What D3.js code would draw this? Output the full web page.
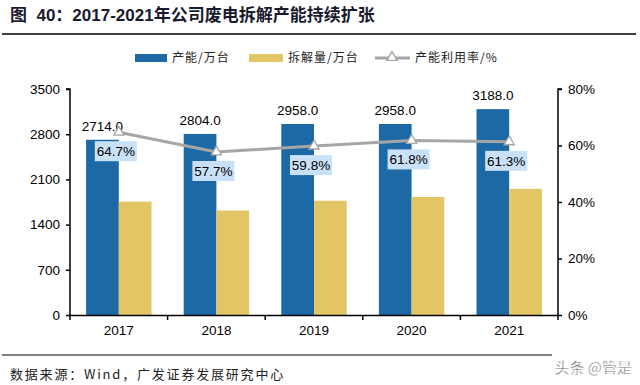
<!DOCTYPE html>
<html>
<head>
<meta charset="utf-8">
<script src="https://cdn.jsdelivr.net/npm/d3@7/dist/d3.min.js"></script>
<style>
  body { margin: 0; background: #fff; }
  svg { display: block; font-family: "Liberation Sans", Arial, "Noto Sans CJK SC", sans-serif; }
</style>
</head>
<body>
<div id="chart"></div>
<script>
const years = ['2017', '2018', '2019', '2020', '2021'];
const capacity = [2714.0, 2804.0, 2958.0, 2958.0, 3188.0];
const dismantled = [1756, 1618, 1769, 1828, 1954];
const utilization = [64.7, 57.7, 59.8, 61.8, 61.3];
const leftTicks = [0, 700, 1400, 2100, 2800, 3500];
const rightTicks = [0, 20, 40, 60, 80];

const width = 640, height = 385;
const margin = { top: 89, right: 82, bottom: 70, left: 70 };
const innerW = width - margin.left - margin.right;
const innerH = height - margin.top - margin.bottom;

const svg = d3.select('#chart')
  .append('svg')
  .attr('width', width)
  .attr('height', height);

// title
svg.append('text')
  .attr('x', 10)
  .attr('y', 21)
  .attr('font-size', 17)
  .attr('font-weight', 'bold')
  .attr('fill', '#1a1a2e')
  .attr('font-family', '"Liberation Sans", "Noto Sans CJK SC", sans-serif')
  .attr('xml:space', 'preserve')
  .text('图  40：2017-2021年公司废电拆解产能持续扩张');
svg.append('line')
  .attr('x1', 2).attr('x2', 636)
  .attr('y1', 34).attr('y2', 34)
  .attr('stroke', '#000').attr('stroke-width', 1.5);

const g = svg.append('g')
  .attr('transform', `translate(${margin.left},${margin.top})`);

const x0 = d3.scaleBand().domain(years).range([0, innerW]).paddingInner(0.33).paddingOuter(0.165);
const x1 = d3.scaleBand().domain(['cap', 'dis']).range([0, x0.bandwidth()]);
const xc = d => x0(d) + x0.bandwidth() / 2;
const yL = d3.scaleLinear().domain([0, 3500]).range([innerH, 0]);
const yR = d3.scaleLinear().domain([0, 80]).range([innerH, 0]);

const blue = '#1c69a6', yellow = '#e2c665', grey = '#a6a6a6';

// bars
g.selectAll('.cap').data(years).join('rect')
  .attr('class', 'cap')
  .attr('x', d => x0(d) + x1('cap'))
  .attr('width', x1.bandwidth())
  .attr('y', (d, i) => yL(capacity[i]))
  .attr('height', (d, i) => innerH - yL(capacity[i]))
  .attr('fill', blue);
g.selectAll('.dis').data(years).join('rect')
  .attr('class', 'dis')
  .attr('x', d => x0(d) + x1('dis'))
  .attr('width', x1.bandwidth())
  .attr('y', (d, i) => yL(dismantled[i]))
  .attr('height', (d, i) => innerH - yL(dismantled[i]))
  .attr('fill', yellow);

// capacity labels
g.selectAll('.capLbl').data(years).join('text')
  .attr('x', d => x0(d) + x1('cap') + x1.bandwidth() / 2)
  .attr('y', (d, i) => yL(capacity[i]) - 9)
  .attr('text-anchor', 'middle')
  .attr('font-size', 13.5)
  .attr('fill', '#000')
  .text((d, i) => capacity[i].toFixed(1));

// axes
const axL = g.append('g')
  .call(d3.axisLeft(yL).tickValues(leftTicks).tickSize(4).tickPadding(6).tickFormat(d3.format('d')));
const axR = g.append('g')
  .attr('transform', `translate(${innerW},0)`)
  .call(d3.axisRight(yR).tickValues(rightTicks).tickSize(4).tickPadding(6).tickFormat(d => d + '%'));
const axB = g.append('g')
  .attr('transform', `translate(0,${innerH})`)
  .call(d3.axisBottom(x0).tickSize(0).tickPadding(10));
// year boundary ticks on x axis
const bounds = d3.range(years.length + 1).map(i => i * innerW / years.length);
g.append('g').selectAll('line').data(bounds).join('line')
  .attr('x1', d => d).attr('x2', d => d)
  .attr('y1', innerH).attr('y2', innerH + 5)
  .attr('stroke', '#000').attr('stroke-width', 1.5);

[axL, axR, axB].forEach(a => {
  a.select('.domain').attr('stroke', '#000').attr('stroke-width', 1.5);
  a.selectAll('.tick line').attr('stroke', '#000').attr('stroke-width', 1.5);
  a.selectAll('.tick text').attr('font-size', 13.5).attr('fill', '#000')
    .attr('font-family', '"Liberation Sans", Arial, sans-serif');
});
axL.select('.domain').attr('d', `M-4,0H0V${innerH}`);
axR.select('.domain').attr('d', `M4,0H0V${innerH}`);

// utilisation line
const line = d3.line()
  .x((d, i) => xc(years[i]))
  .y(d => yR(d));
g.append('path')
  .datum(utilization)
  .attr('fill', 'none')
  .attr('stroke', grey)
  .attr('stroke-width', 3)
  .attr('d', line);
const tri = d3.symbol().type(d3.symbolTriangle).size(45);
g.selectAll('.mk').data(utilization).join('path')
  .attr('transform', (d, i) => `translate(${xc(years[i])},${yR(d)})`)
  .attr('d', tri)
  .attr('fill', '#fff')
  .attr('stroke', grey)
  .attr('stroke-width', 1.3);

// utilisation labels
const lbl = g.selectAll('.uLbl').data(utilization).join('g')
  .attr('transform', (d, i) => `translate(${xc(years[i]) - 3},${yR(d) + 19})`);
lbl.append('rect')
  .attr('x', -21).attr('y', -10)
  .attr('width', 42).attr('height', 20)
  .attr('fill', '#c9e1f6');
lbl.append('text')
  .attr('text-anchor', 'middle')
  .attr('dy', '0.36em')
  .attr('font-size', 13.5)
  .attr('fill', '#000')
  .text(d => d.toFixed(1) + '%');

// legend
const leg = svg.append('g').attr('font-size', 12).attr('fill', '#222')
  .attr('letter-spacing', 1)
  .attr('font-family', '"Noto Sans CJK SC", sans-serif');
leg.append('rect').attr('x', 135).attr('y', 54).attr('width', 32).attr('height', 8).attr('fill', blue);
leg.append('text').attr('x', 172).attr('y', 62).text('产能/万台');
leg.append('rect').attr('x', 249).attr('y', 54).attr('width', 34).attr('height', 8).attr('fill', yellow);
leg.append('text').attr('x', 288).attr('y', 62).text('拆解量/万台');
leg.append('line').attr('x1', 375).attr('x2', 410).attr('y1', 58).attr('y2', 58)
  .attr('stroke', grey).attr('stroke-width', 3);
leg.append('path').attr('transform', 'translate(392,57.5)').attr('d', tri)
  .attr('fill', '#fff').attr('stroke', grey).attr('stroke-width', 1.3);
leg.append('text').attr('x', 415).attr('y', 62).text('产能利用率/%');

// footer
svg.append('line')
  .attr('x1', 2).attr('x2', 552)
  .attr('y1', 355).attr('y2', 355)
  .attr('stroke', '#000').attr('stroke-width', 1);
svg.append('text')
  .attr('x', 10).attr('y', 379)
  .attr('font-size', 13)
  .attr('letter-spacing', 1.8)
  .attr('fill', '#222')
  .attr('font-family', '"Noto Sans CJK SC", sans-serif')
  .text('数据来源：Wind，广发证券发展研究中心');
svg.append('text')
  .attr('x', 632).attr('y', 373)
  .attr('text-anchor', 'end')
  .attr('font-size', 15)
  .attr('fill', '#444')
  .attr('stroke', '#fff').attr('stroke-width', 0.5)
  .attr('font-family', '"Noto Sans CJK SC", sans-serif')
  .text('头条 @管是');
</script>
</body>
</html>
